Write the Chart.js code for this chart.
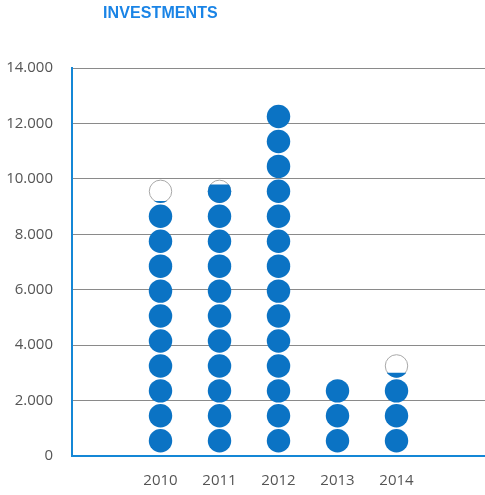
<!DOCTYPE html>
<html>
<head>
<meta charset="utf-8">
<script src="https://cdn.jsdelivr.net/npm/chart.js@4/dist/chart.umd.min.js"></script>
<style>
  html, body { margin: 0; padding: 0; background: #ffffff; }
  #wrap { position: relative; width: 485px; height: 495px; }
  #title {
    position: absolute; left: 103px; top: 5px;
    font: bold 16px/16px "Liberation Sans", Arial, sans-serif;
    color: #1a84e6; letter-spacing: 0.1px;
  }
  canvas { position: absolute; left: 0; top: 0; }
</style>
</head>
<body>
<div id="wrap">
  <canvas id="chart" width="485" height="495"></canvas>
  <div id="title">INVESTMENTS</div>
</div>
<script>
// Yearly investment totals
const years = ['2010', '2011', '2012', '2013', '2014'];
const investments = [9100, 9700, 12600, 2700, 2900];
const yTicks = [0, 2000, 4000, 6000, 8000, 10000, 12000, 14000];

// Each round icon stands for this many units
const iconUnit = 900;
// Small gap kept between the base line and the first icon (in value units)
const iconBaseGap = 100;

// One empty slot on each side of the years
const slotLabels = [''].concat(years, ['']);
const slotValues = [null].concat(investments, [null]);

const ICON_FILL = '#0b73c4';
const ICON_EMPTY_EDGE = '#a8a8a8';
const AXIS_BLUE = '#1487d6';
const LABEL_FONT = '"Open Sans", sans-serif';

function formatThousands(v) {
  return String(v).replace(/\B(?=(\d{3})+(?!\d))/g, '.');
}

// Draws each column as a stack of round icons, the last one filled partially
const iconStacks = {
  id: 'iconStacks',
  afterDatasetsDraw(chart) {
    const ctx = chart.ctx;
    const y = chart.scales.y;
    const meta = chart.getDatasetMeta(0);
    const unitPx = y.getPixelForValue(0) - y.getPixelForValue(iconUnit);
    const r = unitPx * 0.47;
    meta.data.forEach((bar, i) => {
      const value = slotValues[i];
      if (value == null) return;
      const cx = bar.x;
      const count = Math.ceil(value / iconUnit);
      for (let k = 0; k < count; k++) {
        const cy = y.getPixelForValue(iconBaseGap + (k + 0.5) * iconUnit);
        const full = (k + 1) * iconUnit <= value;
        ctx.save();
        if (full) {
          ctx.beginPath();
          ctx.arc(cx, cy, r, 0, Math.PI * 2);
          ctx.fillStyle = ICON_FILL;
          ctx.fill();
        } else {
          ctx.beginPath();
          ctx.arc(cx, cy, r - 0.5, 0, Math.PI * 2);
          ctx.strokeStyle = ICON_EMPTY_EDGE;
          ctx.lineWidth = 1;
          ctx.stroke();
          const levelPx = y.getPixelForValue(iconBaseGap + value);
          ctx.beginPath();
          ctx.rect(cx - r - 2, levelPx, 2 * r + 4, cy + r + 2 - levelPx);
          ctx.clip();
          ctx.beginPath();
          ctx.arc(cx, cy, r, 0, Math.PI * 2);
          ctx.fillStyle = ICON_FILL;
          ctx.fill();
        }
        ctx.restore();
      }
    });
  }
};

new Chart(document.getElementById('chart'), {
  type: 'bar',
  data: {
    labels: slotLabels,
    datasets: [{
      data: slotValues,
      backgroundColor: 'rgba(0,0,0,0)',
      borderWidth: 0
    }]
  },
  options: {
    responsive: false,
    animation: false,
    events: [],
    layout: { padding: { top: 68, right: 0, bottom: 0, left: 0 } },
    plugins: {
      legend: { display: false },
      tooltip: { enabled: false },
      title: { display: false }
    },
    scales: {
      x: {
        grid: { display: false, drawTicks: false },
        border: { display: true, color: AXIS_BLUE, width: 2 },
        ticks: {
          color: '#555555',
          font: { family: LABEL_FONT, size: 15 },
          padding: 16,
          maxRotation: 0,
          autoSkip: false
        },
        afterFit(scale) { scale.height = 39; }
      },
      y: {
        min: 0,
        max: 14000,
        afterBuildTicks(scale) {
          scale.ticks = yTicks.map(v => ({ value: v }));
        },
        grid: { color: '#8a8a8a', lineWidth: 1, drawTicks: false },
        border: { display: true, color: AXIS_BLUE, width: 2 },
        ticks: {
          color: '#555555',
          font: { family: LABEL_FONT, size: 15 },
          padding: 19,
          callback: v => formatThousands(v)
        },
        afterFit(scale) { scale.width = 72; }
      }
    }
  },
  plugins: [iconStacks]
});
</script>
</body>
</html>
